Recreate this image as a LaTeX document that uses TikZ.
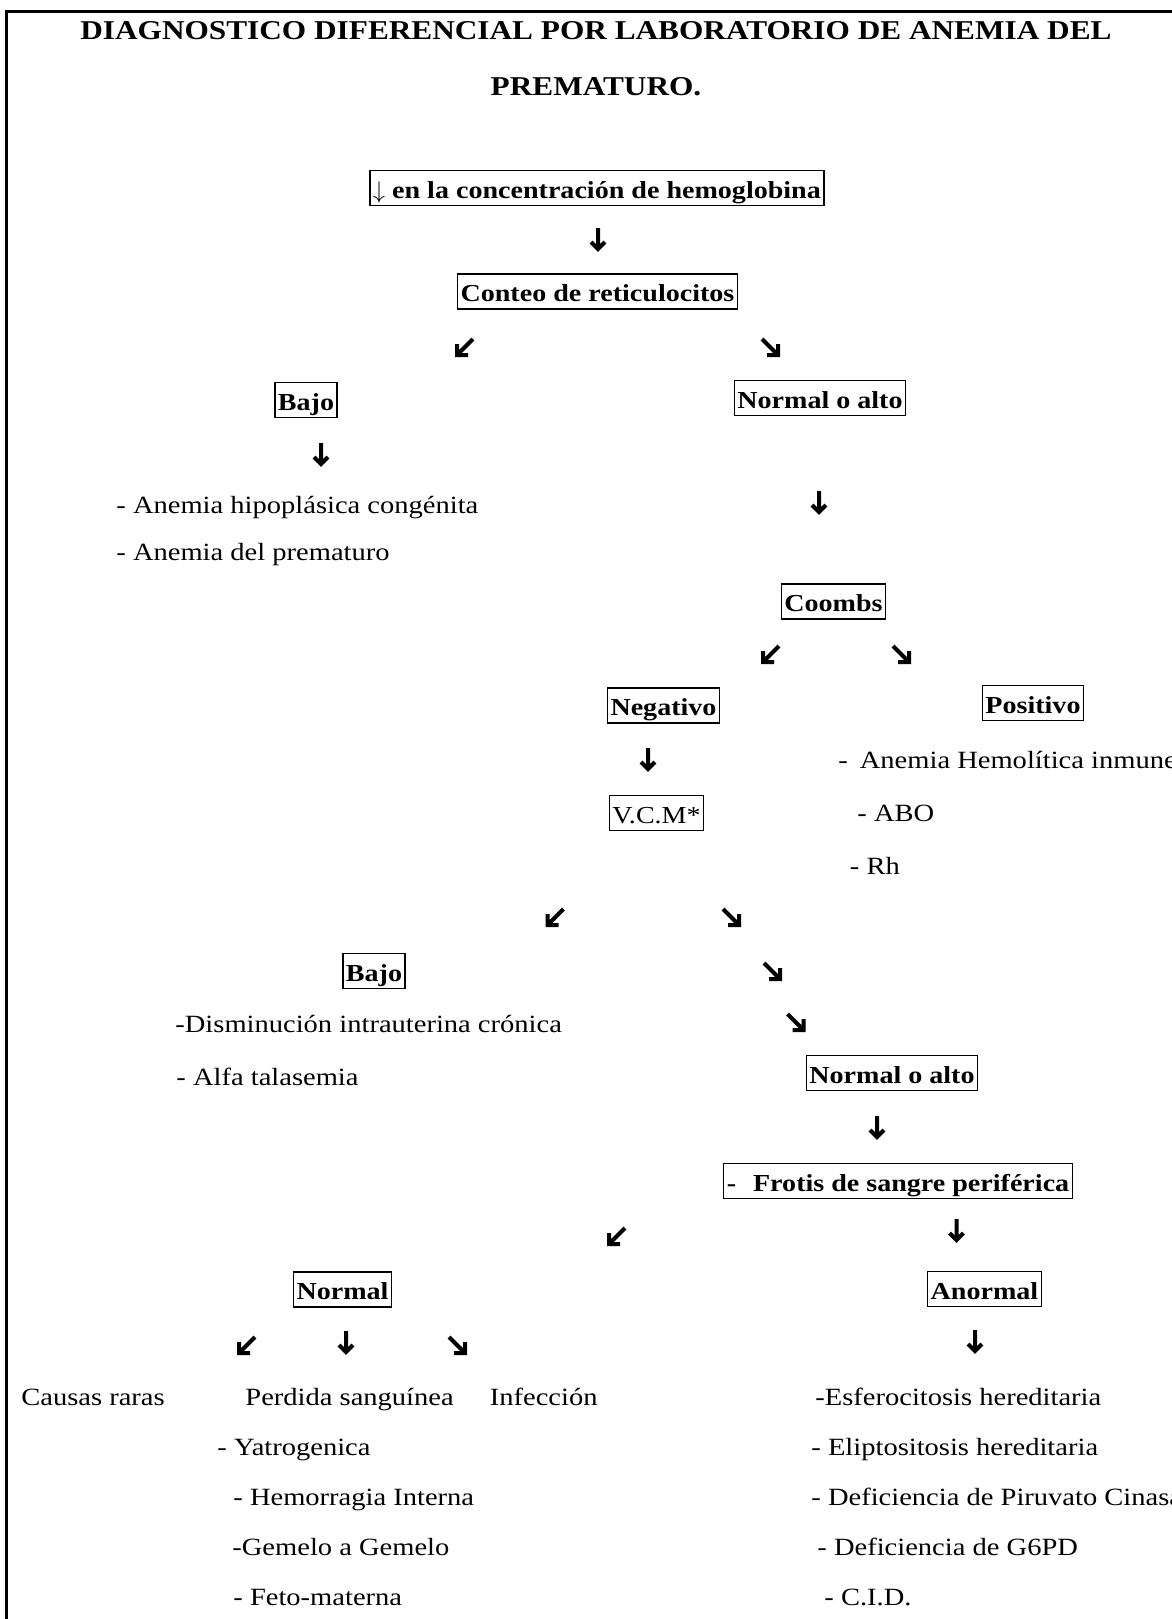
\documentclass[tikz,border=0pt]{standalone}
\usepackage{fontspec}
\setmainfont{Liberation Serif}[FakeStretch=1.15]
\usepackage{tikz}

\begin{document}
\begin{tikzpicture}[x=0.5pt, y=-0.5pt,
    titulo/.style={inner sep=0pt, text height=9.2pt, text depth=0pt, font=\fontsize{13.6}{16}\selectfont\bfseries},
    caja/.style={draw, line width=0.7pt, inner xsep=1.5pt, inner ysep=2.65pt, text height=11.2pt, text depth=1pt, font=\fontsize{12.2}{14}\selectfont\bfseries},
    cajafina/.style={caja, font=\fontsize{12.2}{14}\selectfont},
    texto/.style={anchor=west, inner sep=0pt, text height=8.2pt, text depth=0pt, font=\fontsize{12.4}{15}\selectfont},
    flecha/.style={line width=2pt, line join=miter},
    abajo/.pic={\draw[flecha] (0,-12) -- (0,9) (-7,2) -- (0,9) -- (7,2);},
    derecha/.pic={\draw[flecha] (-8,-8) -- (8,8) (-3,8) -- (8,8) -- (8,-3);},
    izquierda/.pic={\draw[flecha] (8,-8) -- (-8,8) (3,8) -- (-8,8) -- (-8,-3);}]
    \useasboundingbox (0,0) rectangle (1172,1619);

    % Marco (solo arriba y a la izquierda)
    \draw[line width=1.5pt] (6,1619) -- (6,11) -- (1172,11);

    % Titulo
    \node[titulo] (tit1) at (596,30) {DIAGNOSTICO DIFERENCIAL POR LABORATORIO DE ANEMIA DEL};
    \node[titulo] (tit2) at (596,86) {PREMATURO.};

    % Hemoglobina y reticulocitos
    \node[caja] (hemo) at (597,188) {$\downarrow$ en la concentración de hemoglobina};
    \pic at (598,240) {abajo};
    \node[caja] (conteo) at (597.5,291.5) {Conteo de reticulocitos};
    \pic at (465,347) {izquierda};
    \pic at (770,347) {derecha};

    % Rama baja
    \node[caja] (bajo) at (306,400) {Bajo};
    \pic at (321,455) {abajo};
    \node[texto] (hipo) at (116,505) {- Anemia hipoplásica congénita};
    \node[texto] (prem) at (116,552) {- Anemia del prematuro};

    % Rama normal o alto: Coombs
    \node[caja] (altoA) at (820,398) {Normal o alto};
    \pic at (819,503) {abajo};
    \node[caja] (coombs) at (833.5,601.5) {Coombs};
    \pic at (771,654) {izquierda};
    \pic at (901,654) {derecha};
    \node[caja] (neg) at (663.5,705.5) {Negativo\hspace{8pt}};
    \node[caja] (pos) at (1033,703) {Positivo};
    \node[texto] (hemol) at (838,760) {-\hspace{6pt}Anemia Hemolítica inmune};
    \node[texto] (abo) at (857,813) {- ABO};
    \node[texto] (rh) at (849.5,866) {- Rh};

    % V.C.M.
    \pic at (648,760) {abajo};
    \node[cajafina] (vcm) at (656.5,813) {V.C.M*};
    \pic at (555.5,917) {izquierda};
    \pic at (731,917) {derecha};
    \node[caja] (bajoB) at (374,971) {Bajo};
    \node[texto] (dism) at (175,1024) {-Disminución intrauterina crónica};
    \node[texto] (alfa) at (176,1077) {- Alfa talasemia};
    \pic at (772,971) {derecha};
    \pic at (795.5,1022) {derecha};
    \node[caja] (altoB) at (892,1073) {Normal o alto};
    \pic at (877,1128) {abajo};

    % Frotis de sangre periferica
    \node[caja] (frotis) at (898,1181) {-\hspace{8.5pt}Frotis de sangre periférica};
    \pic at (617,1236) {izquierda};
    \pic at (956.5,1231) {abajo};
    \node[caja] (normal) at (342.5,1289.5) {Normal\hspace{11pt}};
    \node[caja] (anormal) at (984.5,1289) {Anormal};
    \pic at (247,1345) {izquierda};
    \pic at (346,1343) {abajo};
    \pic at (457,1345) {derecha};
    \pic at (975,1342) {abajo};

    % Causas con frotis normal
    \node[texto] (raras) at (21,1397) {Causas raras};
    \node[texto] (perdida) at (245,1397) {Perdida sanguínea};
    \node[texto] (infec) at (489.5,1397) {Infección};
    \node[texto] (yatro) at (217,1447) {- Yatrogenica};
    \node[texto] (hemorr) at (233,1497) {- Hemorragia Interna};
    \node[texto] (gemelo) at (232,1547) {-Gemelo a Gemelo};
    \node[texto] (feto) at (233,1597) {- Feto-materna};

    % Causas con frotis anormal
    \node[texto] (esfero) at (815,1397) {-Esferocitosis hereditaria};
    \node[texto] (elipto) at (811,1447) {- Eliptositosis hereditaria};
    \node[texto] (piruv) at (811,1497) {- Deficiencia de Piruvato Cinasa};
    \node[texto] (gpd) at (817,1547) {- Deficiencia de G6PD};
    \node[texto] (cid) at (824,1597) {- C.I.D.};
\end{tikzpicture}
\end{document}
